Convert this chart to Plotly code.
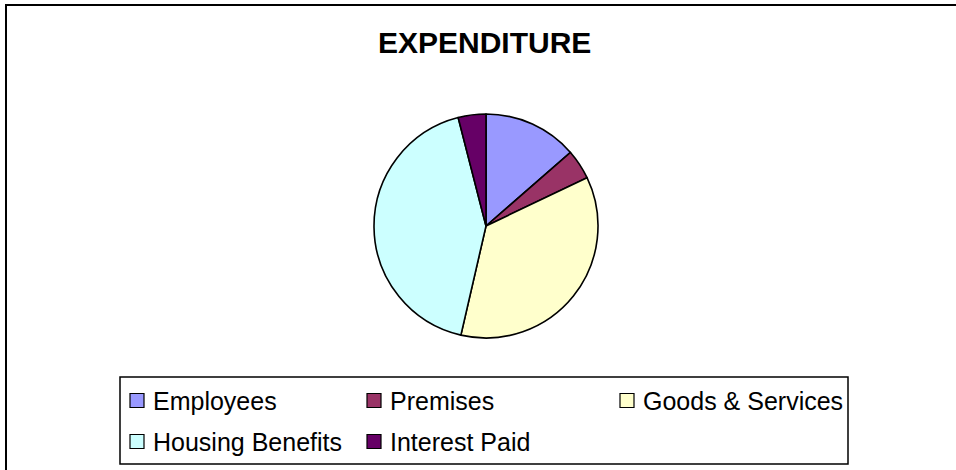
import plotly.graph_objects as go

# ---- data ----
labels = ["Employees", "Premises", "Goods & Services", "Housing Benefits", "Interest Paid"]
values = [13.6, 4.3, 35.7, 42.4, 4.0]
colors = ["#9999FF", "#993366", "#FFFFCC", "#CCFFFF", "#660066"]
title_text = "EXPENDITURE"

W, H = 956, 470


def px(x):
    return x / W


def py(y):
    return 1 - y / H


fig = go.Figure()
fig.add_trace(go.Pie(
    labels=labels,
    values=values,
    sort=False,
    direction="clockwise",
    rotation=0,
    marker=dict(colors=colors, line=dict(color="black", width=1.6)),
    textinfo="none",
    showlegend=False,
    domain=dict(x=[px(374), px(598)], y=[py(338), py(114)]),
))

shapes = []
annotations = []

# outer chart border (only top & left visible in frame)
shapes.append(dict(type="rect", xref="paper", yref="paper",
                   x0=px(6), y0=py(5), x1=px(W + 10), y1=py(H + 10),
                   line=dict(color="black", width=2), fillcolor="rgba(0,0,0,0)"))

# legend box
shapes.append(dict(type="rect", xref="paper", yref="paper",
                   x0=px(120), y0=py(377), x1=px(848), y1=py(464),
                   line=dict(color="black", width=1.5), fillcolor="white"))

# legend entries (manual grid layout)
col_x = [130, 367, 620]
row_y = [400.5, 441.5]
sq = 14
for i, (lab, col) in enumerate(zip(labels, colors)):
    r, c = divmod(i, 3)
    bx, cy = col_x[c], row_y[r]
    shapes.append(dict(type="rect", xref="paper", yref="paper",
                       x0=px(bx), y0=py(cy + sq / 2), x1=px(bx + sq), y1=py(cy - sq / 2),
                       line=dict(color="black", width=1.2), fillcolor=col))
    annotations.append(dict(xref="paper", yref="paper", x=px(bx + sq + 7), y=py(cy),
                            xanchor="left", yanchor="middle", showarrow=False,
                            text=lab,
                            font=dict(family="Liberation Sans, Arial", size=25, color="black")))

# title
annotations.append(dict(xref="paper", yref="paper", x=px(484), y=py(42),
                        xanchor="center", yanchor="middle", showarrow=False,
                        text="<b>" + title_text + "</b>",
                        font=dict(family="Liberation Sans, Arial", size=30, color="black")))

fig.update_layout(
    width=W, height=H,
    margin=dict(l=0, r=0, t=0, b=0),
    paper_bgcolor="white",
    plot_bgcolor="white",
    shapes=shapes,
    annotations=annotations,
    showlegend=False,
)

fig.write_html("out.html", config={"displayModeBar": False},
               post_script="document.body.style.margin='0';")
